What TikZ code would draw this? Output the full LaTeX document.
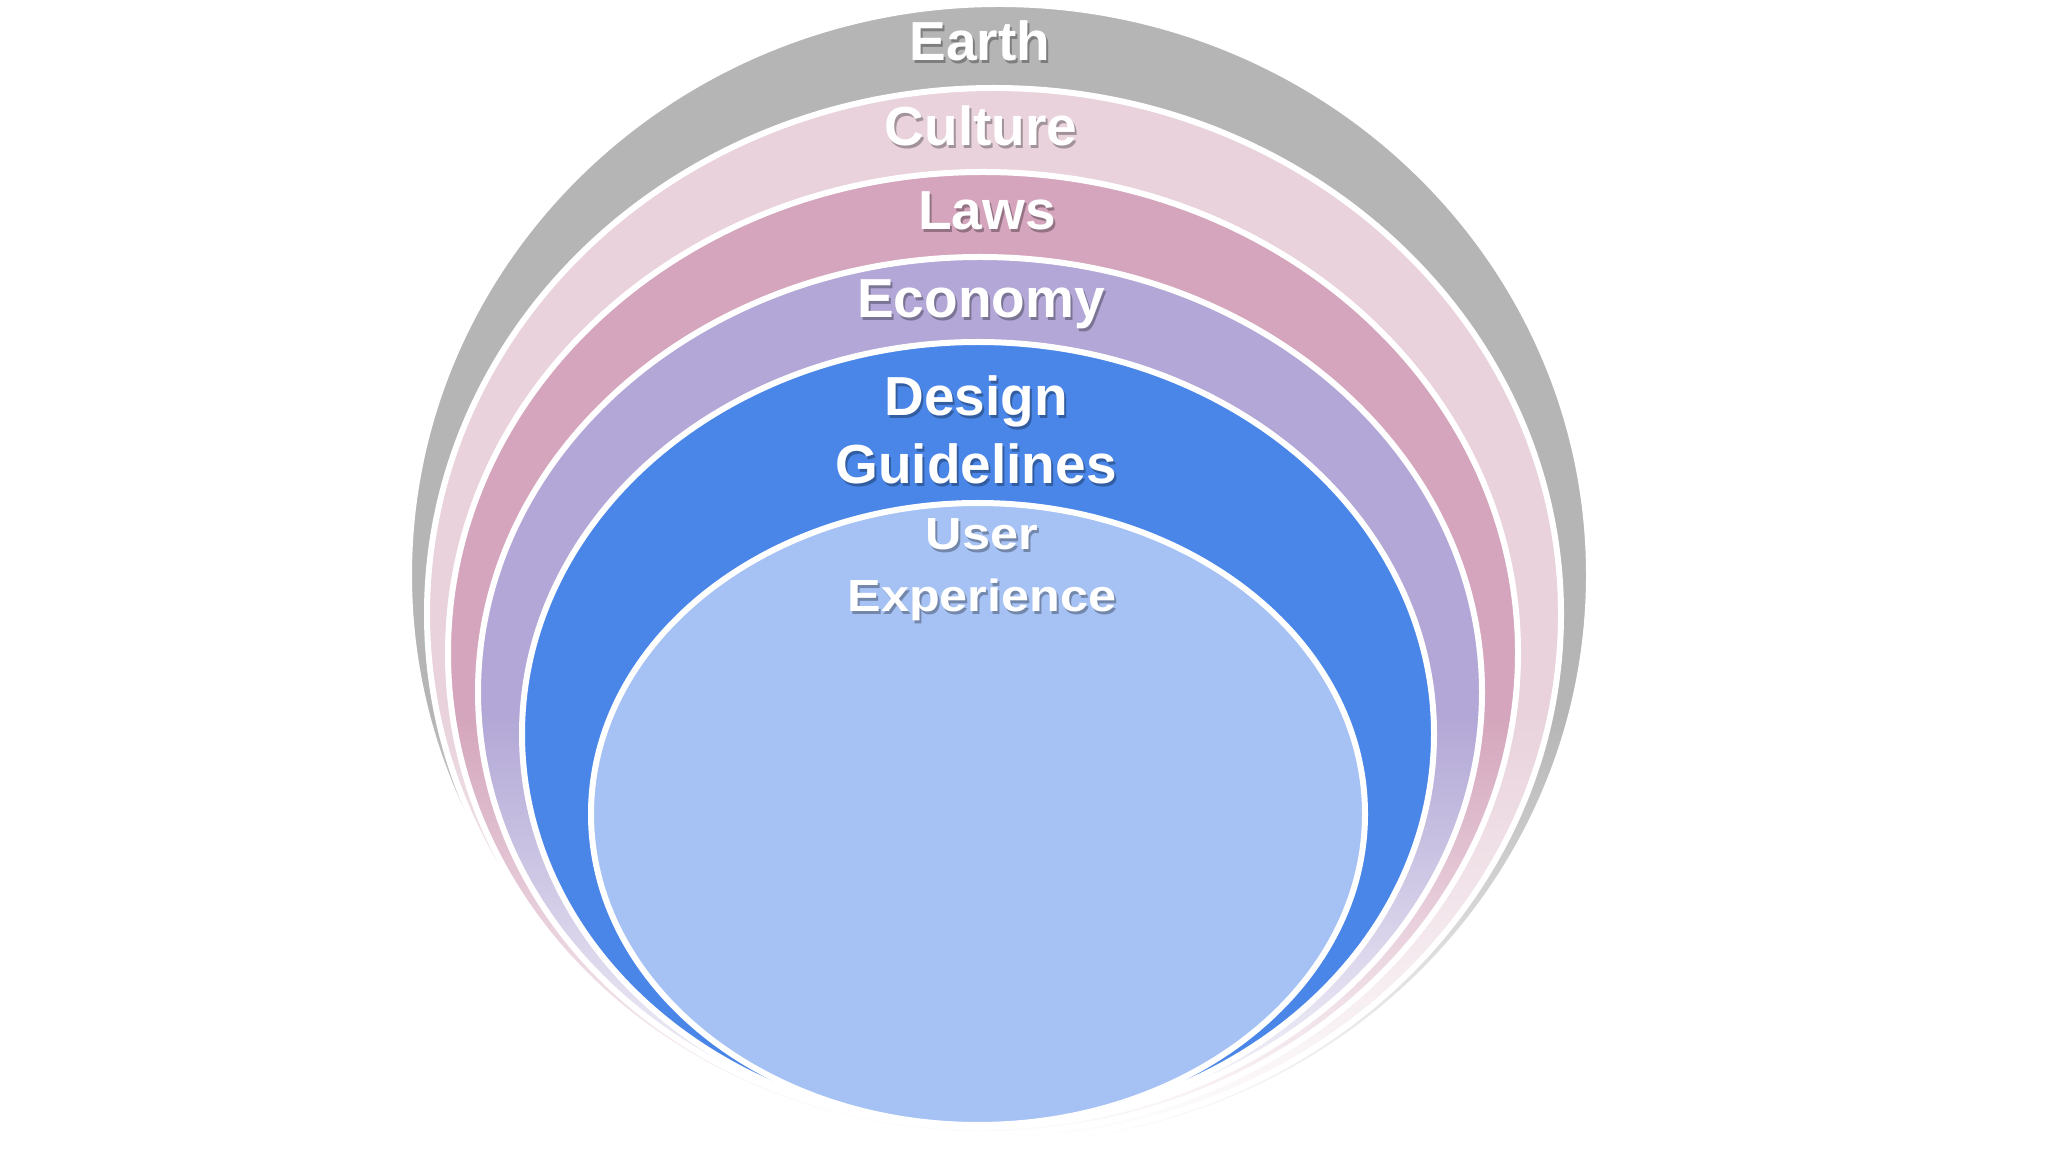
\documentclass[tikz,border=0pt]{standalone}
\usepackage{fontspec}
\setmainfont{Liberation Sans}
\usepackage{tikz}
\usetikzlibrary{positioning,fadings,calc}

\definecolor{earthgray}{HTML}{B5B5B5}
\definecolor{culturepink}{HTML}{E9D2DC}
\definecolor{lawsrose}{HTML}{D4A5BC}
\definecolor{economylilac}{HTML}{B2A7D6}
\definecolor{designblue}{HTML}{4A86E8}
\definecolor{uxblue}{HTML}{A6C2F5}

\tikzfading[name=fadedown, top color=transparent!100, middle color=transparent!30, bottom color=transparent!0]

\tikzset{
  ring/.style={draw=white,line width=6pt},
  lbl/.style={text=white,inner sep=0pt,anchor=base,font=\bfseries\fontsize{55}{60}\selectfont},
  lblshadow/.style={text=black,opacity=0.3},
  uxlbl/.style={font=\bfseries\fontsize{45}{50}\selectfont,xscale=1.12}
}

\newcommand{\ringlabel}[4][]{%
  \node[lbl,lblshadow,#1] (#2-sh) at ($(#3)+(2,-3)$) {#4};
  \node[lbl,#1] (#2) at (#3) {#4};}

\begin{document}
\begin{tikzpicture}[x=1pt,y=1pt]
		\useasboundingbox[fill=white] (0,0) rectangle (2048,1152);
		
		\fill[earthgray,ring] (999,577) ellipse [x radius=590,y radius=571];
		\fill[culturepink,ring] (994,538) ellipse [x radius=567,y radius=526];
		\fill[lawsrose,ring] (983,499) ellipse [x radius=535,y radius=481];
		\fill[economylilac,ring] (980,460) ellipse [x radius=502,y radius=435];
		% white fade over the lower part of the outer rings
		\fill[white,path fading=fadedown] (380,0) rectangle (1620,440);
		\fill[designblue,ring] (978,418) ellipse [x radius=456,y radius=392];
		\fill[uxblue,ring] (978,338) ellipse [x radius=387,y radius=311];
		
		\ringlabel{earth}{980,1091}{Earth}
		\ringlabel{culture}{981,1006}{Culture}
		\ringlabel{laws}{987,922}{Laws}
		\ringlabel{economy}{981,834}{Economy}
		\ringlabel{design}{976,736}{Design}
		\ringlabel{guide}{976,668}{Guidelines}
		\ringlabel[uxlbl]{user}{982,602}{User}
		\ringlabel[uxlbl]{exp}{982,540}{Experience}
	\end{tikzpicture}
\end{document}
